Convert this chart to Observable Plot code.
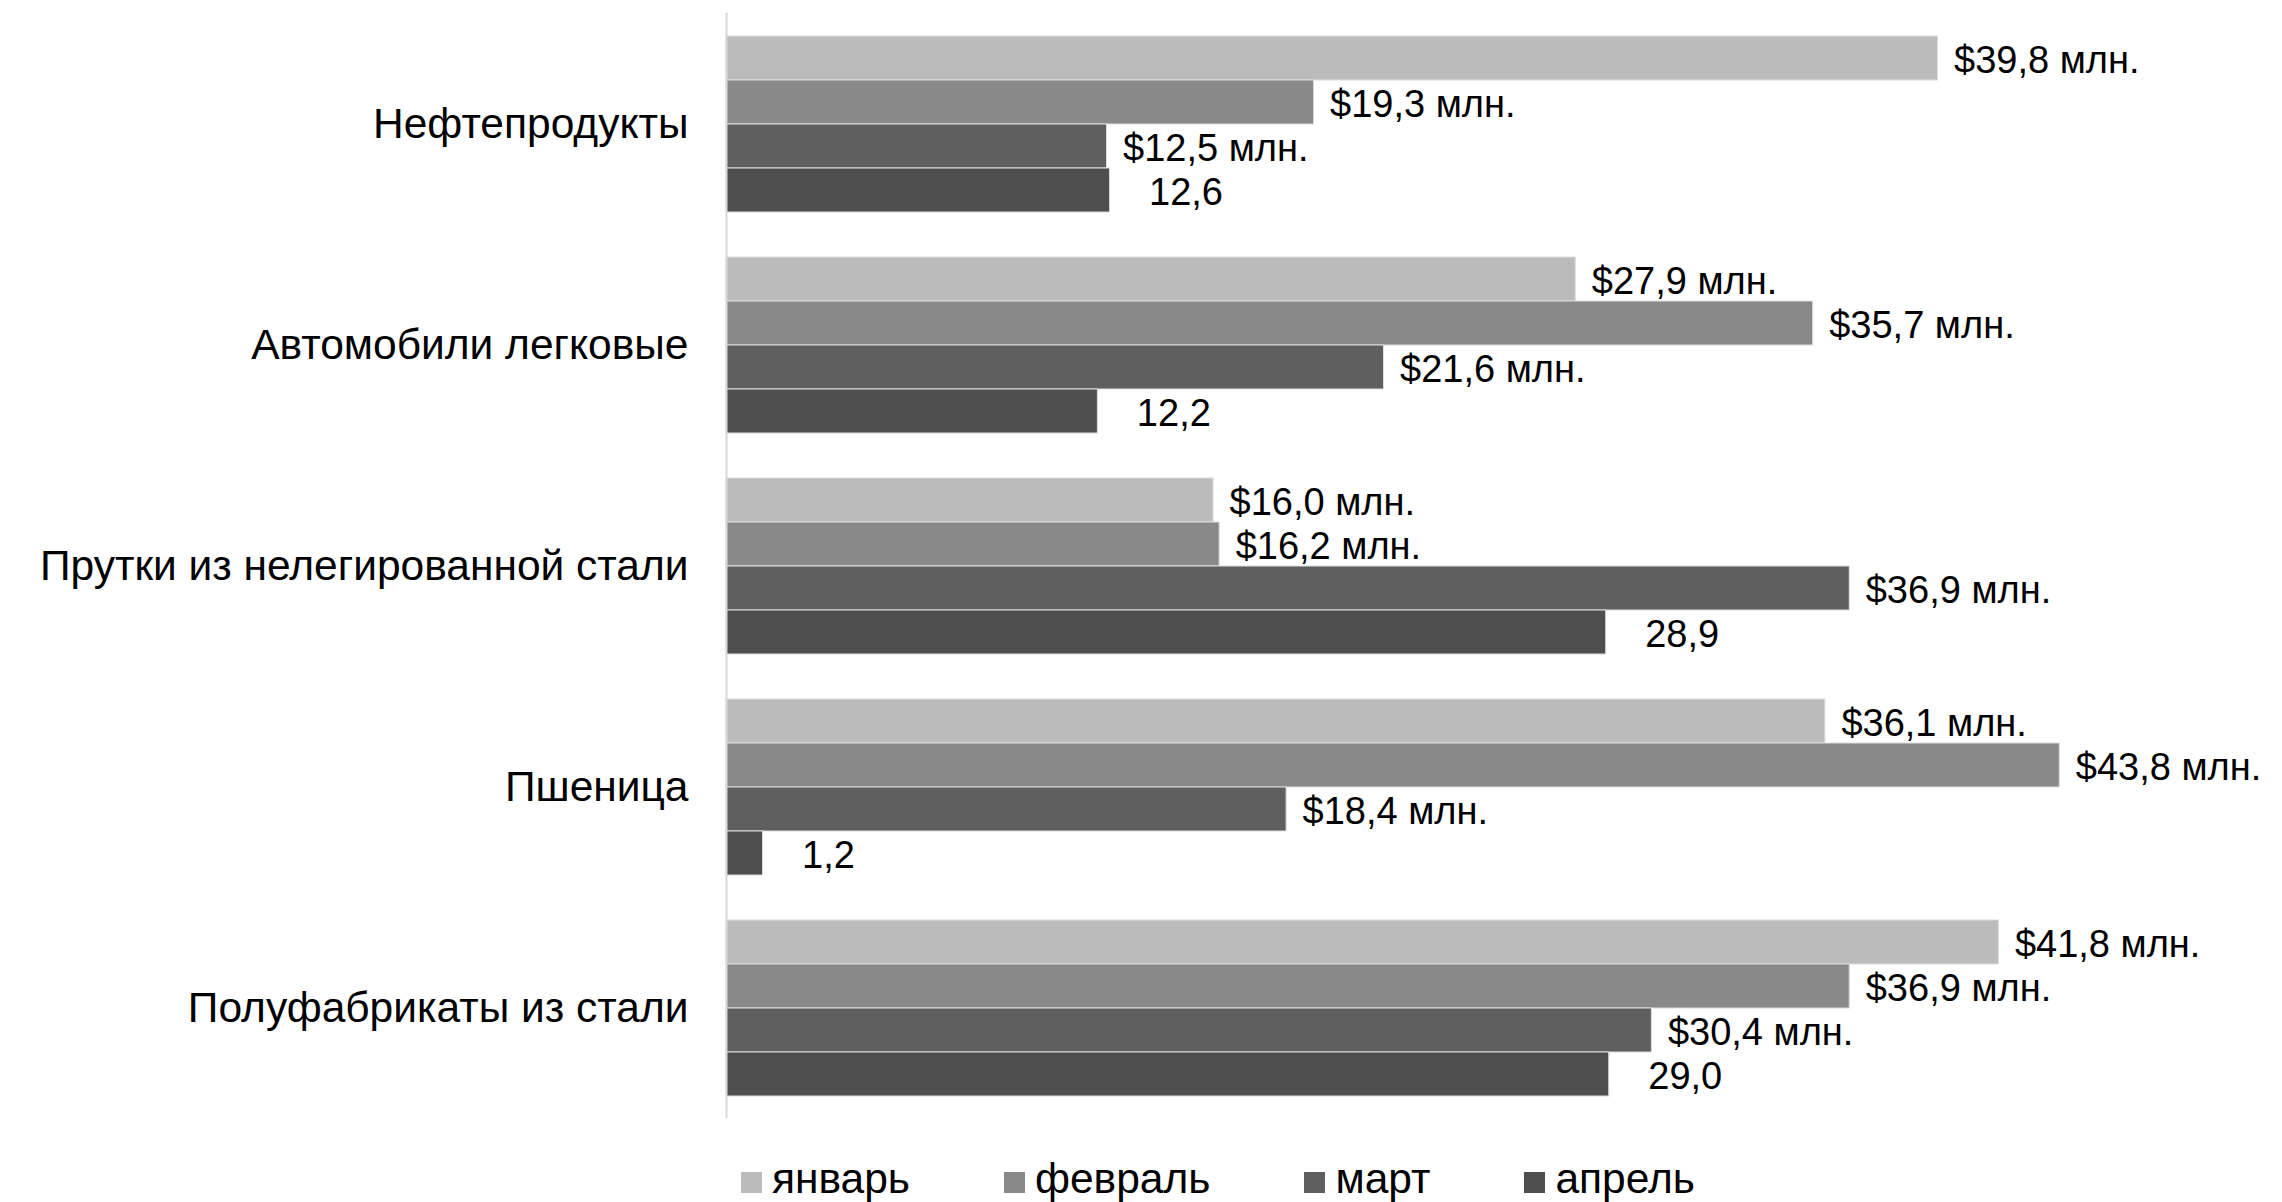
<!DOCTYPE html>
<html><head><meta charset="utf-8">
<script src="https://cdn.jsdelivr.net/npm/d3@7"></script>
<script src="https://cdn.jsdelivr.net/npm/@observablehq/plot@0.6"></script>
<style>
body{margin:0;background:#fff;font-family:"Liberation Sans",Arial,sans-serif;}
#legend{display:flex;padding-left:741px;margin-top:15px;font-size:42.5px;line-height:48px;color:#000;}
.item{margin-right:94px;white-space:nowrap}
.sw{display:inline-block;width:21px;height:21px;margin-right:10px;}
</style></head><body>
<div id="chart"></div><div id="legend"></div>
<script>
const categories = ["Нефтепродукты", "Автомобили легковые", "Прутки из нелегированной стали", "Пшеница", "Полуфабрикаты из стали"];
const months = ["январь", "февраль", "март", "апрель"];
const january = [39.8, 27.9, 16.0, 36.1, 41.8];
const february = [19.3, 35.7, 16.2, 43.8, 36.9];
const march = [12.5, 21.6, 36.9, 18.4, 30.4];
const april = [12.6, 12.2, 28.9, 1.2, 29.0];
const colors = ["#bbbbbb", "#898989", "#5f5f5f", "#4e4e4e"];

const series = [january, february, march, april];
const data = [];
categories.forEach((c, i) => months.forEach((m, j) => data.push({category: c, month: m, value: series[j][i]})));
const comma = v => v.toFixed(1).replace(".", ",");
const isApr = d => d.month === "апрель";

const chart = Plot.plot({
  width: 2282, height: 1140,
  marginLeft: 726, marginRight: 34, marginTop: 13, marginBottom: 22,
  style: {fontFamily: "'Liberation Sans', Arial, sans-serif", fontSize: "38px", color: "#000", background: "#fff"},
  x: {domain: [0, 50], axis: null},
  y: {domain: months, padding: 0, axis: null},
  fy: {domain: categories, paddingInner: 0.2, paddingOuter: 0.1, label: null, axis: null},
  color: {domain: months, range: colors},
  marks: [
    Plot.barX(data, {x: "value", y: "month", fy: "category", fill: "month", stroke: "#dddddd", strokeWidth: 1}),
    Plot.ruleX([0], {stroke: "#d9d9d9", strokeWidth: 2, insetTop: -22.2, insetBottom: -22.2}),
    Plot.axisFy({anchor: "left", tickSize: 0, tickPadding: 38, label: null, fontSize: 42.5}),
    Plot.text(data.filter(d => !isApr(d)), {x: "value", y: "month", fy: "category", text: d => "$" + comma(d.value) + " млн.", textAnchor: "start", dx: 16, dy: 2, fill: "#000"}),
    Plot.text(data.filter(isApr), {x: "value", y: "month", fy: "category", text: d => comma(d.value), textAnchor: "start", dx: 39, dy: 2, fill: "#000"})
  ]
});
document.getElementById("chart").appendChild(chart);

const legend = document.getElementById("legend");
months.forEach((m, j) => {
  const it = document.createElement("span");
  it.className = "item";
  const sw = document.createElement("span");
  sw.className = "sw";
  sw.style.background = colors[j];
  it.appendChild(sw);
  it.appendChild(document.createTextNode(m));
  legend.appendChild(it);
});
</script>
</body></html>
